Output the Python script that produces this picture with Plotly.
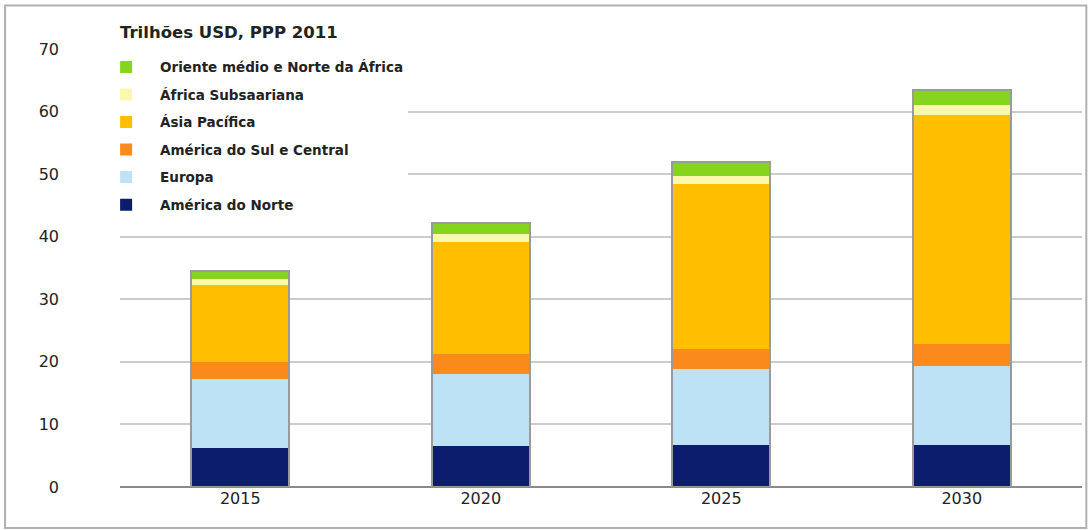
import plotly.graph_objects as go

years = ["2015", "2020", "2025", "2030"]
america_norte = [6.3, 6.5, 6.7, 6.7]
europa = [10.9, 11.6, 12.1, 12.6]
america_sul = [2.8, 3.1, 3.3, 3.6]
asia_pacifica = [12.3, 18.0, 26.4, 36.6]
africa_sub = [1.0, 1.2, 1.2, 1.5]
oriente_medio = [1.3, 1.8, 2.3, 2.5]

series_names = ["América do Norte", "Europa", "América do Sul e Central",
                "Ásia Pacífica", "África Subsaariana", "Oriente médio e Norte da África"]
series_values = [america_norte, europa, america_sul, asia_pacifica, africa_sub, oriente_medio]
series_colors = ["#0b1d6c", "#bde2f5", "#f98a1b", "#ffbf00", "#fbf8ad", "#86d41e"]

y_ticks = [0, 10, 20, 30, 40, 50, 60, 70]

FONT = "DejaVu Sans"
BAR_W = 0.406

fig = go.Figure()
for i, (name, vals, col) in enumerate(zip(series_names, series_values, series_colors)):
    fig.add_trace(go.Bar(
        x=years, y=vals, name=name, marker=dict(color=col, line=dict(width=0)),
        width=BAR_W, legendgroup=f"g{i}", legendrank=1000 - i,
    ))

totals = [sum(v[j] for v in series_values) for j in range(len(years))]
fig.add_trace(go.Bar(
    x=years, y=totals, xaxis="x2", showlegend=False, width=BAR_W,
    marker=dict(color="rgba(0,0,0,0)", line=dict(color="#9a9a9a", width=2)),
    hoverinfo="skip",
))

fig.update_layout(
    width=1088, height=530,
    margin=dict(l=120, r=6, t=48.5, b=43),
    paper_bgcolor="white", plot_bgcolor="white",
    barmode="stack",
    bargap=0.594,
    font=dict(family=FONT, color="#222222"),
    xaxis=dict(
        type="category", categoryorder="array", categoryarray=years,
        showgrid=False, showline=False, zeroline=False, ticks="",
        tickfont=dict(size=16, color="#222222", family=FONT),
    ),
    xaxis2=dict(
        type="category", categoryorder="array", categoryarray=years,
        overlaying="x", matches="x", visible=False,
    ),
    yaxis=dict(
        range=[0, 70], tickvals=y_ticks, showgrid=True, gridcolor="#cccccc", gridwidth=1.5,
        zeroline=True, zerolinecolor="#8a8a8a", zerolinewidth=2, showline=False, ticks="",
        tickfont=dict(size=16, color="#222222", family=FONT),
        ticklabelstandoff=60,
    ),
    legend=dict(
        x=-0.029, y=0.994, xanchor="left", yanchor="top",
        traceorder="grouped", tracegroupgap=7,
        bgcolor="white", borderwidth=0,
        font=dict(size=13.5, color="#222222", family=FONT, weight=700),
        itemwidth=58,
    ),
    showlegend=True,
    annotations=[dict(
        text="Trilhões USD, PPP 2011", xref="paper", yref="paper",
        x=-0.002, y=1.038, xanchor="left", yanchor="middle", showarrow=False,
        font=dict(size=16.5, color="#222222", family=FONT, weight=700),
    )],
    shapes=[dict(
        type="rect", xref="paper", yref="paper",
        x0=-0.1195, x1=1.0045, y0=-0.0935, y1=1.0992,
        line=dict(color="#b0b0b0", width=2), fillcolor="rgba(0,0,0,0)", layer="below",
    )],
)

fig.write_html("out.html", config={"displayModeBar": False},
               post_script="document.body.style.margin='0';document.body.style.overflow='hidden';")
